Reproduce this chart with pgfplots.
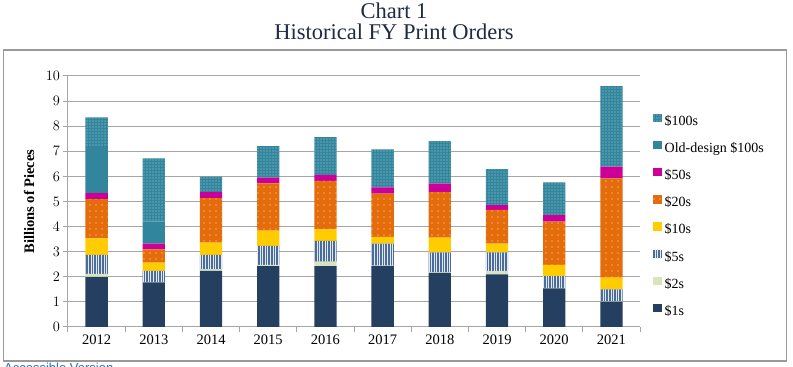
\documentclass[border=0pt]{standalone}
\usepackage{fontspec}
\setmainfont{Liberation Serif}
\newfontfamily\linkfont{Liberation Sans}
\usepackage{pgfplots}
\pgfplotsset{compat=1.18}
\usetikzlibrary{patterns.meta}
\definecolor{c1}{HTML}{243F60}
\definecolor{c2}{HTML}{D7E4BD}
\definecolor{c5}{HTML}{4A6C9B}
\definecolor{c10}{HTML}{FFCC00}
\definecolor{c20}{HTML}{E46C0A}
\definecolor{c50}{HTML}{CC0099}
\definecolor{c100}{HTML}{31859C}
\definecolor{gridc}{HTML}{A6A6A6}
\definecolor{framec}{HTML}{999999}
\definecolor{titlec}{HTML}{1F2A44}
\definecolor{linkc}{HTML}{2F6DB5}
\pgfplotsset{sqlegend/.style={legend image code/.code={\path[##1,draw=none] (0pt,-0.5pt) rectangle (8.5pt,8pt);}}}
\begin{document}
\begin{tikzpicture}[x=1pt,y=1pt]
\path[use as bounding box] (0,0) rectangle (793,367);
\clip (0,0) rectangle (793,367);
\draw[framec, line width=1.8pt] (3.5,317) rectangle (786.5,6);
\node[font=\fontsize{22.5}{24}\selectfont, text=titlec, anchor=base, inner sep=0pt] at (394,348.7) {Chart 1};
\node[font=\fontsize{22.5}{24}\selectfont, text=titlec, anchor=base, inner sep=0pt] at (394,327.7) {Historical FY Print Orders};
\node[font=\linkfont\fontsize{13}{15}\selectfont, text=linkc, anchor=north west, inner sep=0pt] at (4,4.5) {Accessible Version};
\begin{axis}[
  at={(68pt,40pt)}, anchor=south west,
  scale only axis, width=572pt, height=251pt,
  ybar stacked, bar width=0.39,
  xmin=-0.5, xmax=9.5, ymin=0, ymax=10,
  xtick={-0.5,0.5,...,9.5}, x tick label as interval,
  xticklabels={2012,2013,2014,2015,2016,2017,2018,2019,2020,2021},
  ytick={0,1,...,10},
  axis x line*=bottom, axis y line*=left,
  ymajorgrids, grid style={gridc, line width=1pt},
  axis line style={gridc, line width=1pt},
  tick style={gridc, line width=1pt},
  tick align=outside, major tick length=4.5pt,
  ticklabel style={font=\fontsize{14.5}{16}\selectfont, text=black},
  ylabel={Billions of Pieces},
  every axis y label/.style={at={(axis description cs:-0.068,0.5)}, rotate=90, anchor=center,
    font=\bfseries\fontsize{14.5}{16}\selectfont},
  legend style={at={(1.0227,0.8514)}, anchor=north west, draw=none, fill=none, inner sep=0pt,
    row sep=12.7pt, column sep=3pt, font=\fontsize{14}{16}\selectfont,
    nodes={inner sep=0pt, text height=10pt, text depth=3pt}},
  legend cell align=left, reverse legend,
  every axis plot post/.append style={sqlegend},
]
\addplot[fill=c1, draw=none] coordinates {(0,2.00) (1,1.78) (2,2.24) (3,2.43) (4,2.43) (5,2.43) (6,2.16) (7,2.10) (8,1.54) (9,1.01)};
\addlegendentry{\$1s}
\addplot[fill=c2, draw=none] coordinates {(0,0.12) (1,0.02) (2,0.06) (3,0.05) (4,0.17) (5,0.02) (6,0.02) (7,0.14) (8,0.02) (9,0.02)};
\addlegendentry{\$2s}
\addplot[fill=c5, draw=none, postaction={pattern={Lines[angle=90,distance=2.6pt,line width=0.9pt]}, pattern color=white!85!c5}] coordinates {(0,0.75) (1,0.44) (2,0.57) (3,0.75) (4,0.83) (5,0.87) (6,0.79) (7,0.73) (8,0.47) (9,0.47)};
\addlegendentry{\$5s}
\addplot[fill=c10, draw=none] coordinates {(0,0.66) (1,0.32) (2,0.49) (3,0.61) (4,0.46) (5,0.27) (6,0.59) (7,0.35) (8,0.45) (9,0.47)};
\addlegendentry{\$10s}
\addplot[fill=c20, draw=none, postaction={pattern={Dots[distance=6pt,radius=0.7pt]}, pattern color=white!80!c20}] coordinates {(0,1.56) (1,0.53) (2,1.77) (3,1.88) (4,1.93) (5,1.72) (6,1.81) (7,1.35) (8,1.72) (9,3.95)};
\addlegendentry{\$20s}
\addplot[fill=c50, draw=none] coordinates {(0,0.24) (1,0.23) (2,0.24) (3,0.23) (4,0.24) (5,0.25) (6,0.34) (7,0.19) (8,0.26) (9,0.47)};
\addlegendentry{\$50s}
\addplot[fill=c100, draw=none] coordinates {(0,1.88) (1,0.88) (2,0) (3,0) (4,0) (5,0) (6,0) (7,0) (8,0) (9,0)};
\addlegendentry{Old-design \$100s}
\addplot[fill=c100, draw=none, postaction={pattern={Dots[distance=3pt,radius=0.65pt]}, pattern color=white!60!c100}] coordinates {(0,1.14) (1,2.52) (2,0.62) (3,1.26) (4,1.50) (5,1.52) (6,1.70) (7,1.43) (8,1.30) (9,3.21)};
\addlegendentry{\$100s}
\end{axis}
\end{tikzpicture}
\end{document}
